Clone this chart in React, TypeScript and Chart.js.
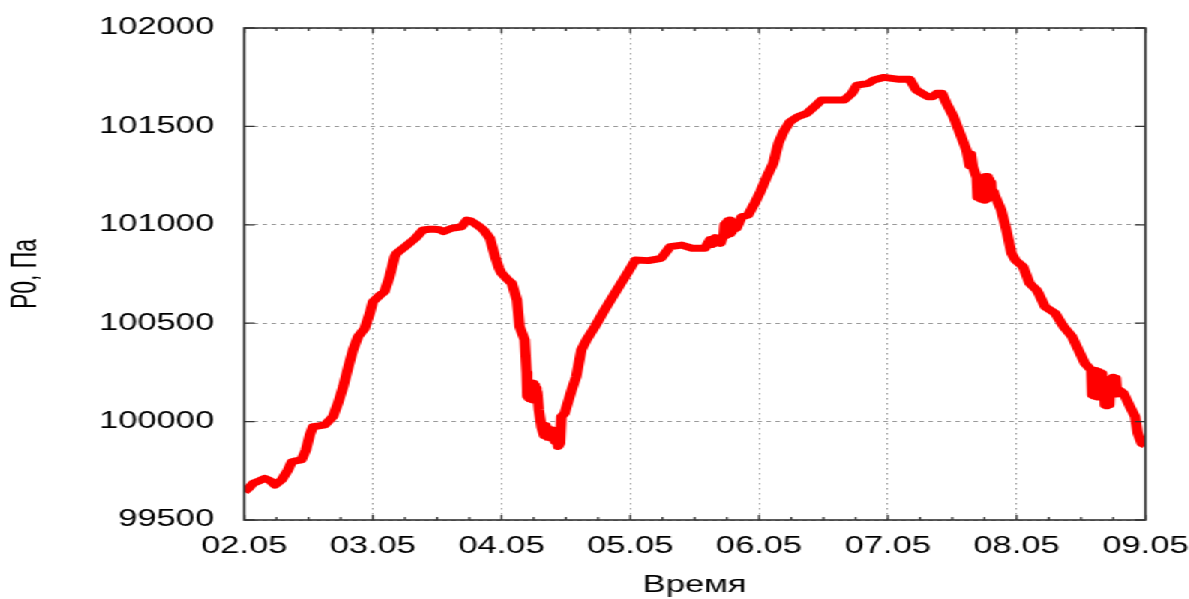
import React, { useEffect, useRef } from "react";
import { Chart, registerables } from "chart.js";

Chart.register(...registerables);

// Time in days since 02.05 00:00
const days = [
  0.0, 0.04, 0.07, 0.12, 0.16, 0.2, 0.24, 0.29, 0.34, 0.37, 0.4, 0.445, 0.48, 0.51, 0.535, 0.58, 0.627,
  0.69, 0.73, 0.77, 0.81, 0.846, 0.885, 0.937, 0.976, 1.0, 1.05, 1.09, 1.13, 1.17, 1.185, 1.25, 1.33,
  1.39, 1.44, 1.48, 1.52, 1.55, 1.61, 1.69, 1.73, 1.76, 1.79, 1.83, 1.86, 1.91, 1.95, 1.98, 2.0, 2.05,
  2.08, 2.12, 2.14, 2.18,
  2.195, 2.2, 2.206, 2.212, 2.218, 2.224, 2.23, 2.236, 2.242, 2.248, 2.254, 2.26, 2.266, 2.272, 2.278, 2.29,
  2.31, 2.33, 2.345, 2.36, 2.375, 2.39, 2.4, 2.415, 2.43, 2.44, 2.455, 2.465, 2.49, 2.545, 2.58, 2.62,
  2.66, 2.725, 2.8, 2.88, 2.96, 3.04, 3.14, 3.24, 3.31, 3.4, 3.48, 3.58, 3.62, 3.64, 3.66, 3.7,
  3.725, 3.732, 3.739, 3.746, 3.753, 3.76, 3.767, 3.774, 3.781, 3.788, 3.795, 3.81, 3.825,
  3.865, 3.915, 3.97, 4.01, 4.06, 4.11, 4.15, 4.19, 4.24, 4.3, 4.37, 4.43, 4.485, 4.6, 4.66,
  4.72, 4.76, 4.85, 4.89, 4.97, 5.03, 5.09, 5.17, 5.22, 5.31, 5.35, 5.38, 5.42, 5.455, 5.51, 5.56, 5.61,
  5.635, 5.645, 5.66,
  5.69, 5.697, 5.704, 5.711, 5.718, 5.725, 5.732, 5.739, 5.746, 5.753, 5.76, 5.767, 5.774, 5.781, 5.788,
  5.795, 5.802, 5.81, 5.82, 5.83,
  5.88, 5.92, 5.96, 5.99, 6.02, 6.05, 6.1, 6.155, 6.17, 6.22, 6.3, 6.365, 6.43, 6.48, 6.53,
  6.58, 6.587, 6.594, 6.601, 6.608, 6.615, 6.622, 6.629, 6.636, 6.643, 6.65, 6.657, 6.664, 6.671, 6.678,
  6.685, 6.692, 6.7, 6.71, 6.72, 6.73, 6.74, 6.75, 6.76, 6.77, 6.78, 6.8,
  6.83, 6.88, 6.92, 6.94, 6.97, 7.0,
];

// Pressure P0, Pa
const pressure = [
  99643, 99665, 99687, 99700, 99712, 99700, 99678, 99703, 99754, 99796, 99800, 99805, 99856, 99932, 99974, 99978, 99983,
  100025, 100095, 100178, 100279, 100364, 100432, 100474, 100550, 100609, 100640, 100660, 100736, 100838, 100855, 100889, 100931,
  100974, 100977, 100977, 100975, 100965, 100982, 100990, 101024, 101020, 101008, 100990, 100974, 100931, 100838, 100780, 100754, 100720,
  100703, 100618, 100482, 100415,
  100250, 100130, 100190, 100120, 100195, 100115, 100190, 100120, 100195, 100110, 100185, 100115, 100170, 100110, 100150, 100060,
  99974, 99930, 99980, 99920, 99960, 99915, 99957, 99900, 99935, 99873, 99890, 100025, 100042, 100161, 100228, 100364,
  100415, 100482, 100567, 100652, 100736, 100821, 100818, 100830, 100889, 100897, 100881, 100881, 100925, 100900, 100935, 100906,
  100950, 101000, 100945, 101010, 100950, 101020, 100955, 101025, 100965, 101015, 100970, 101005, 100982,
  101041, 101050, 101115, 101168, 101244, 101312, 101414, 101473, 101524, 101549, 101566, 101600, 101634, 101634, 101634,
  101668, 101710, 101719, 101736, 101749, 101744, 101739, 101739, 101685, 101651, 101651, 101668, 101668, 101617, 101549, 101465, 101380,
  101300, 101360, 101295,
  101240, 101140, 101230, 101135, 101235, 101130, 101240, 101130, 101240, 101125, 101245, 101130, 101245, 101140, 101230,
  101140, 101215, 101140, 101170, 101150,
  101075, 100974, 100855, 100821, 100804, 100787, 100703, 100669, 100652, 100584, 100550, 100482, 100432, 100364, 100296,
  100262, 100135, 100258, 100130, 100260, 100130, 100255, 100125, 100255, 100130, 100250, 100125, 100245, 100130, 100200,
  100085, 100195, 100080, 100190, 100085, 100215, 100140, 100225, 100145, 100220, 100140, 100160,
  100144, 100076, 100025, 99941, 99890, 99881,
];

const xTickLabels = ["02.05", "03.05", "04.05", "05.05", "06.05", "07.05", "08.05", "09.05"];
const yMin = 99500;
const yMax = 102000;
const yStep = 500;
const xAxisTitle = "Время";
const yAxisTitle = "P0, Па";

const STRETCH = 1.5;
const W = 793;
const H = 599;

const FONT = { family: "'Liberation Sans', Arial, sans-serif", size: 23 };

const framePlugin = {
  id: "gnuFrame",
  afterDraw(chart: any) {
    const { ctx, chartArea: a, scales } = chart;
    const xs = scales.x;
    const ys = scales.y;
    ctx.save();
    ctx.strokeStyle = "#333333";
    ctx.lineWidth = 1.3;
    ctx.beginPath();
    const nMinor = (xTickLabels.length - 1) * 4;
    for (let i = 0; i <= nMinor; i++) {
      const px = xs.getPixelForValue(i / 4);
      const len = i % 4 === 0 ? 5 : 3;
      ctx.moveTo(px, a.bottom);
      ctx.lineTo(px, a.bottom - len);
      ctx.moveTo(px, a.top);
      ctx.lineTo(px, a.top + len);
    }
    for (let v = yMin; v <= yMax; v += yStep) {
      const py = ys.getPixelForValue(v);
      ctx.moveTo(a.left, py);
      ctx.lineTo(a.left + 7, py);
      ctx.moveTo(a.right, py);
      ctx.lineTo(a.right - 7, py);
    }
    ctx.stroke();
    ctx.lineWidth = 1.6;
    ctx.strokeRect(a.left, a.top, a.right - a.left, a.bottom - a.top);
    ctx.restore();
  },
};

export default function App() {
  const ref = useRef<HTMLCanvasElement | null>(null);

  useEffect(() => {
    if (!ref.current) return;
    const chart = new Chart(ref.current, {
      type: "line",
      data: {
        datasets: [
          {
            data: days.map((d, i) => ({ x: d, y: pressure[i] })),
            borderColor: "#ff0000",
            borderWidth: 7,
            pointRadius: 0,
            tension: 0,
            fill: false,
            borderJoinStyle: "round",
          },
        ],
      },
      options: {
        animation: false,
        responsive: false,
        devicePixelRatio: 1,
        layout: { padding: { left: 0, right: 29.3, top: 28, bottom: 0 } },
        plugins: { legend: { display: false }, tooltip: { enabled: false } },
        scales: {
          x: {
            type: "linear",
            min: 0,
            max: xTickLabels.length - 1,
            afterFit: (s: any) => {
              s.height = 79;
              s.paddingLeft = 0;
              s.paddingRight = 0;
            },
            ticks: {
              stepSize: 1,
              autoSkip: false,
              maxRotation: 0,
              padding: 13,
              color: "#000",
              font: FONT,
              callback: (v: any) => xTickLabels[Math.round(Number(v))] ?? "",
            },
            grid: { color: "#9a9a9a", lineWidth: 1, drawTicks: false },
            border: { display: false, dash: [1.5, 3.5] },
            title: {
              display: true,
              text: xAxisTitle,
              color: "#000",
              font: FONT,
              padding: { top: 0, bottom: 0 },
            },
          },
          y: {
            type: "linear",
            min: yMin,
            max: yMax,
            afterFit: (s: any) => {
              s.width = 162.7;
              s.paddingTop = 0;
              s.paddingBottom = 0;
            },
            ticks: {
              stepSize: yStep,
              padding: 20,
              color: "#000",
              font: FONT,
              callback: (v: any) => String(v),
            },
            grid: { color: "#9a9a9a", lineWidth: 1, drawTicks: false },
            border: { display: false, dash: [3, 3] },
            title: {
              display: true,
              text: yAxisTitle,
              color: "#000",
              font: FONT,
              padding: { top: 4, bottom: 4 },
            },
          },
        },
      },
      plugins: [framePlugin],
    } as any);
    return () => chart.destroy();
  }, []);

  return (
    <div
      style={{
        position: "fixed",
        left: 0,
        top: 0,
        width: W,
        height: H,
        transform: `scaleX(${STRETCH})`,
        transformOrigin: "0 0",
        background: "#fff",
      }}
    >
      <canvas ref={ref} width={W} height={H} style={{ display: "block" }} />
    </div>
  );
}
